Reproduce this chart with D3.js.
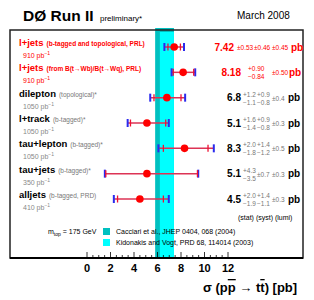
<!DOCTYPE html>
<html><head><meta charset="utf-8">
<script src="https://cdn.jsdelivr.net/npm/d3@7"></script>
<style>body{margin:0;background:#fff}svg{display:block;font-family:"Liberation Sans",Arial,sans-serif}</style>
</head><body><svg id="c" width="314" height="300"></svg>
<script>
// ---- data ----
const channels = ["l+jets","l+jets","dilepton","l+track","tau+lepton","tau+jets","alljets"];
const notes = ["(b-tagged and topological, PRL)","(from B(t\u2192Wb)/B(t\u2192Wq), PRL)","(topological)*","(b-tagged)*","(b-tagged)*","(b-tagged)*","(b-tagged, PRD)"];
const lumiInt = ["910","910","1050","1050","1050","350","410"];
const highlight = [true,true,false,false,false,false,false];
const xsec = [7.42,8.18,6.8,5.1,8.3,5.1,4.5];
const decimals = [2,2,1,1,1,1,1];
const statUp = [0.53,0.90,1.2,1.6,2.0,4.3,2.0];
const statDn = [0.53,0.84,1.1,1.4,1.8,3.5,1.9];
const systUp = [0.46,null,0.9,0.9,1.4,0.7,1.4];
const systDn = [0.46,null,0.8,0.8,1.2,0.7,1.1];
const lumiErr = [0.45,0.50,0.4,0.3,0.5,0.3,0.3];
const ticks = [0,2,4,6,8,10,12];
const bandNames = ["Cacciari et al., JHEP 0404, 068 (2004)","Kidonakis and Vogt, PRD 68, 114014 (2003)"];
const bandLow = [5.8,6.2];
const bandHigh = [7.4,7.4];
const bandColors = ["#00c0c0","#00ffff"];

// ---- drawing ----
const svg = d3.select("#c");
const x = d3.scaleLinear().domain([0,12]).range([87,228]);
const y = d3.scalePoint().domain(d3.range(channels.length)).range([47,199]);
const F = {l:10,t:30,r:303,b:258};

// bands
bandNames.forEach((n,i)=>{
  svg.append("rect").attr("x",x(bandLow[i])).attr("width",x(bandHigh[i])-x(bandLow[i]))
    .attr("y",i===0?28:32).attr("height",F.b-(i===0?28:32)).attr("fill",bandColors[i]);
});

// frame
svg.append("rect").attr("x",F.l).attr("y",F.t).attr("width",F.r-F.l).attr("height",F.b-F.t)
  .attr("fill","none").attr("stroke","#222").attr("stroke-width",1.5);
svg.append("line").attr("x1",F.l).attr("x2",F.r).attr("y1",F.b).attr("y2",F.b).attr("stroke","#000").attr("stroke-width",2);

// axis ticks (pointing inward)
const minor = d3.range(0,12.01,0.5);
svg.selectAll(".tk").data(minor).join("line").attr("class","tk")
  .attr("x1",d=>x(d)).attr("x2",d=>x(d)).attr("y1",F.b)
  .attr("y2",d=>F.b-(d%2===0?6:3)).attr("stroke","#000").attr("stroke-width",0.8);
svg.selectAll(".tl").data(ticks).join("text").attr("class","tl")
  .attr("x",d=>x(d)).attr("y",272).attr("text-anchor","middle")
  .attr("font-size",11).attr("font-weight","bold").text(d=>d);

// error bars
const q = (a,b,c)=>Math.sqrt(a*a+(b||0)*(b||0)+c*c);
channels.forEach((c,i)=>{
  const v = xsec[i], yy = y(i);
  const tu = q(statUp[i],systUp[i],lumiErr[i]), td = q(statDn[i],systDn[i],lumiErr[i]);
  const g = svg.append("g");
  g.append("line").attr("x1",x(v-td)).attr("x2",x(v+tu)).attr("y1",yy).attr("y2",yy)
    .attr("stroke","#dd3355").attr("stroke-width",1.5);
  [v-td,v+tu].forEach(e=>g.append("line").attr("x1",x(e)).attr("x2",x(e)).attr("y1",yy-4).attr("y2",yy+4)
    .attr("stroke","#2a2aee").attr("stroke-width",2));
  [v-statDn[i],v+statUp[i]].forEach(e=>g.append("line").attr("x1",x(e)).attr("x2",x(e)).attr("y1",yy-3.5).attr("y2",yy+3.5)
    .attr("stroke","#ee1133").attr("stroke-width",1.3));
  g.append("circle").attr("cx",x(v)).attr("cy",yy).attr("r",3.8).attr("fill","#ff0000");
});

// left labels
channels.forEach((c,i)=>{
  const yy = y(i), red = highlight[i];
  const t = svg.append("text").attr("x",19).attr("y",yy-1).attr("font-size",9.5).attr("font-weight","bold")
    .attr("fill",red?"#ff0000":"#000").text(c);
  t.append("tspan").attr("dx",3).attr("font-size",6.5).attr("font-weight",red?"bold":"normal")
    .attr("fill",red?"#ff0000":"#777").text(notes[i]);
  const l = svg.append("text").attr("x",23).attr("y",yy+11).attr("font-size",7).attr("fill",red?"#ff0000":"#888")
    .text(lumiInt[i]+" pb");
  l.append("tspan").attr("dy",-3).attr("font-size",5).text("\u22121");
});

// right value labels
const fmt = (v,d)=>v.toFixed(d);
channels.forEach((c,i)=>{
  const yy = y(i), red = highlight[i], col = red?"#ff0000":"#000", ecol = red?"#ff0000":"#777";
  const d = decimals[i];
  const valEnd = i===0?234:241;
  svg.append("text").attr("x",valEnd).attr("y",yy+3.5).attr("text-anchor","end")
    .attr("font-size",10).attr("font-weight","bold").attr("fill",col).text(fmt(xsec[i],d));
  let xs = i===0?237:(i===1?248:243);
  const pm = (up,dn,xx)=>{
    if (up===dn) {
      svg.append("text").attr("x",xx).attr("y",yy+3).attr("font-size",6.5).attr("fill",ecol).text("\u00b1"+fmt(up,d));
    } else {
      svg.append("text").attr("x",xx).attr("y",yy-1).attr("font-size",6.5).attr("fill",ecol).text("+"+fmt(up,d));
      svg.append("text").attr("x",xx).attr("y",yy+7).attr("font-size",6.5).attr("fill",ecol).text("\u2212"+fmt(dn,d));
    }
  };
  pm(statUp[i],statDn[i],xs);
  if (systUp[i]!==null) pm(systUp[i],systDn[i],i===0?254:257);
  pm(lumiErr[i],lumiErr[i],272);
  svg.append("text").attr("x",i===0?291:(i===1?289:288)).attr("y",yy+3.5)
    .attr("font-size",10).attr("font-weight","bold").attr("fill",col).text("pb");
});
svg.append("text").attr("x",238).attr("y",220).attr("font-size",7).text("(stat) (syst) (lumi)");

// legend
bandNames.forEach((n,i)=>{
  svg.append("rect").attr("x",103).attr("y",228+i*11).attr("width",7).attr("height",7).attr("fill",bandColors[i]);
  svg.append("text").attr("x",116).attr("y",234+i*11).attr("font-size",7).text(n);
});
const m = svg.append("text").attr("x",48).attr("y",234).attr("font-size",7).text("m");
m.append("tspan").attr("dy",2).attr("font-size",5).text("top");
m.append("tspan").attr("dy",-2).text(" = 175 GeV");

// titles
const t1 = svg.append("text").attr("x",23).attr("y",21).attr("font-size",15.5).attr("font-weight","bold").text("D\u00d8 Run II");
svg.append("text").attr("x",100).attr("y",21).attr("font-size",8).text("preliminary*");
svg.append("text").attr("x",237).attr("y",19).attr("font-size",10).text("March 2008");

const ax = svg.append("text").attr("x",203).attr("y",292).attr("font-size",13).attr("font-weight","bold");
ax.append("tspan").text("\u03c3 (p");
ax.append("tspan").style("text-decoration","overline").text("p");
ax.append("tspan").text(" \u2192 t");
ax.append("tspan").style("text-decoration","overline").text("t");
ax.append("tspan").text(") [pb]");
</script></body></html>
